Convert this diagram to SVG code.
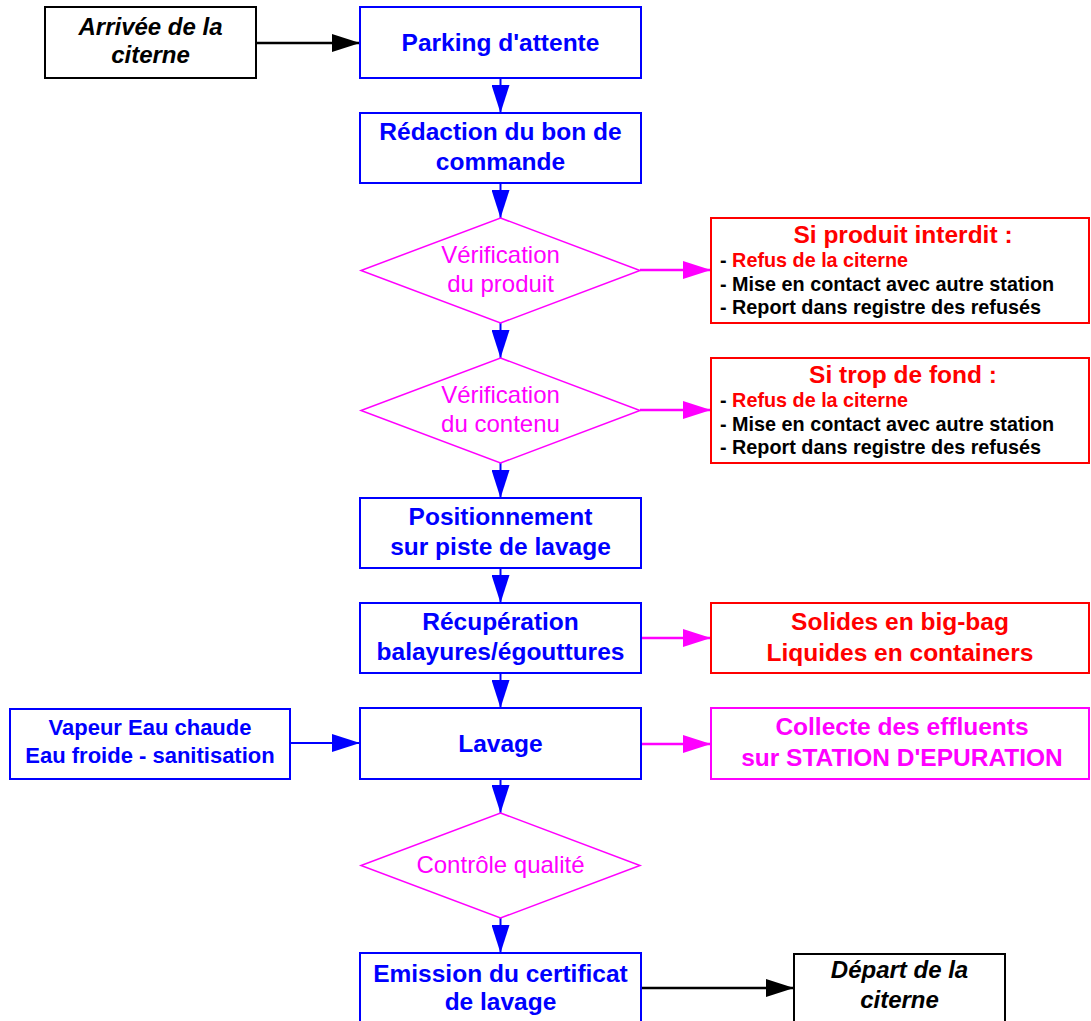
<svg xmlns="http://www.w3.org/2000/svg" width="1091" height="1021" viewBox="0 0 1091 1021">
<style>
text{font-family:"Liberation Sans",Arial,sans-serif;text-anchor:middle}
.bx{fill:#fff;stroke:#0000ff;stroke-width:2}
.bk{fill:#fff;stroke:#000;stroke-width:2}
.rd{fill:#fff;stroke:#ff0000;stroke-width:2}
.mg{fill:#fff;stroke:#ff00ff;stroke-width:2}
.dm{fill:#fff;stroke:#ff00ff;stroke-width:1.5}
.tb{font-size:24.5px;font-weight:bold;fill:#0000ff}
.tk{font-size:24px;font-weight:bold;font-style:italic;fill:#000}
.tm{font-size:24px;fill:#ff00ff}
.tr{font-size:24.5px;font-weight:bold;fill:#ff0000}
.ts{font-size:19.8px;font-weight:bold;fill:#000;text-anchor:start}
.tmb{font-size:24.5px;font-weight:bold;fill:#ff00ff}
.cb{stroke:#0000ff;stroke-width:2;fill:none;marker-end:url(#ab)}
.cm{stroke:#ff00ff;stroke-width:2.5;fill:none;marker-end:url(#am)}
.ck{stroke:#000;stroke-width:2.5;fill:none;marker-end:url(#ak)}
</style>
<defs>
<marker id="ab" markerUnits="userSpaceOnUse" markerWidth="28" markerHeight="18" refX="28" refY="9" orient="auto"><path d="M0,0L28,9L0,18z" fill="#0000ff"/></marker>
<marker id="am" markerUnits="userSpaceOnUse" markerWidth="28" markerHeight="18" refX="28" refY="9" orient="auto"><path d="M0,0L28,9L0,18z" fill="#ff00ff"/></marker>
<marker id="ak" markerUnits="userSpaceOnUse" markerWidth="28" markerHeight="18" refX="28" refY="9" orient="auto"><path d="M0,0L28,9L0,18z" fill="#000"/></marker>
</defs>
<g id="connectors">
<path class="ck" d="M256,43H360"/>
<path class="cb" d="M500.5,78V113"/>
<path class="cb" d="M500.5,183V218"/>
<path class="cb" d="M500.5,323V358"/>
<path class="cb" d="M500.5,463V498"/>
<path class="cb" d="M500.5,568V603"/>
<path class="cb" d="M500.5,673V708"/>
<path class="cb" d="M500.5,779V813"/>
<path class="cb" d="M500.5,918V953"/>
<path class="cm" d="M640,270H711"/>
<path class="cm" d="M640,410H711"/>
<path class="cm" d="M641,638H711"/>
<path class="cm" d="M641,744H711"/>
<path class="cb" d="M290,743H360"/>
<path class="ck" d="M641,988H794"/>
</g>
<g id="arrivee"><rect class="bk" x="45" y="7" width="211" height="71"/><text class="tk" x="150.5" y="35">Arrivée de la</text><text class="tk" x="150.5" y="63">citerne</text></g>
<g id="parking"><rect class="bx" x="360" y="7" width="281" height="71"/><text class="tb" x="500.5" y="51">Parking d'attente</text></g>
<g id="redaction"><rect class="bx" x="360" y="113" width="281" height="70"/><text class="tb" x="500.5" y="140">Rédaction du bon de</text><text class="tb" x="500.5" y="170">commande</text></g>
<g id="verif-produit"><polygon class="dm" points="500.5,218 640,270.5 500.5,323 361,270.5"/><text class="tm" x="500.5" y="263">Vérification</text><text class="tm" x="500.5" y="292">du produit</text></g>
<g id="si-interdit"><rect class="rd" x="711" y="218" width="378" height="105"/><text class="tr" x="903" y="243">Si produit interdit :</text>
<text class="ts" x="720" y="267">- <tspan fill="#ff0000">Refus de la citerne</tspan></text><text class="ts" x="720" y="291">- Mise en contact avec autre station</text><text class="ts" x="720" y="314">- Report dans registre des refusés</text></g>
<g id="verif-contenu"><polygon class="dm" points="500.5,358 640,410.5 500.5,463 361,410.5"/><text class="tm" x="500.5" y="403">Vérification</text><text class="tm" x="500.5" y="432">du contenu</text></g>
<g id="si-fond"><rect class="rd" x="711" y="358" width="378" height="105"/><text class="tr" x="903" y="383">Si trop de fond :</text>
<text class="ts" x="720" y="407">- <tspan fill="#ff0000">Refus de la citerne</tspan></text><text class="ts" x="720" y="431">- Mise en contact avec autre station</text><text class="ts" x="720" y="454">- Report dans registre des refusés</text></g>
<g id="positionnement"><rect class="bx" x="360" y="498" width="281" height="70"/><text class="tb" x="500.5" y="525">Positionnement</text><text class="tb" x="500.5" y="555">sur piste de lavage</text></g>
<g id="recuperation"><rect class="bx" x="360" y="603" width="281" height="70"/><text class="tb" x="500.5" y="630">Récupération</text><text class="tb" x="500.5" y="660">balayures/égouttures</text></g>
<g id="solides"><rect class="rd" x="711" y="603" width="378" height="70"/><text class="tr" x="900" y="630">Solides en big-bag</text><text class="tr" x="900" y="661">Liquides en containers</text></g>
<g id="vapeur"><rect class="bx" x="10" y="709" width="280" height="70"/><text class="tb" style="font-size:22px" x="150" y="735">Vapeur Eau chaude</text><text class="tb" style="font-size:22px" x="150" y="763">Eau froide - sanitisation</text></g>
<g id="lavage"><rect class="bx" x="360" y="708" width="281" height="71"/><text class="tb" x="500.5" y="752">Lavage</text></g>
<g id="collecte"><rect class="mg" x="711" y="708" width="378" height="71"/><text class="tmb" x="902" y="735">Collecte des effluents</text><text class="tmb" x="902" y="766">sur STATION D'EPURATION</text></g>
<g id="controle"><polygon class="dm" points="500.5,813 640,865.5 500.5,918 361,865.5"/><text class="tm" x="500.5" y="873">Contrôle qualité</text></g>
<g id="emission"><rect class="bx" x="360" y="953" width="281" height="71"/><text class="tb" x="500.5" y="982">Emission du certificat</text><text class="tb" x="500.5" y="1010">de lavage</text></g>
<g id="depart"><rect class="bk" x="794" y="954" width="211" height="71"/><text class="tk" x="899.5" y="978">Départ de la</text><text class="tk" x="899.5" y="1008">citerne</text></g>
</svg>
